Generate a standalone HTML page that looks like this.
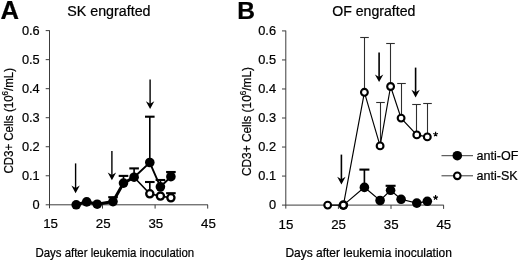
<!DOCTYPE html>
<html><head><meta charset="utf-8"><style>
html,body{margin:0;padding:0;background:#fff;}
body{width:520px;height:262px;overflow:hidden;}
svg{display:block;font-family:"Liberation Sans",sans-serif;fill:#000;filter:grayscale(1);}
svg text{stroke:#000;stroke-width:0.22px;}
</style></head><body>
<svg width="520" height="262" viewBox="0 0 520 262">
<rect width="520" height="262" fill="#fff"/>

<text x="0.5" y="19.1" font-size="25.6" font-weight="bold">A</text>
<text x="67.3" y="15.6" font-size="14.25">SK engrafted</text>
<g stroke="#3c3c3c" stroke-width="1" fill="none">
<path d="M49.5 30.30000000000001 V208.3"/>
<path d="M45.7 204.8 H207.9"/>
<path d="M45.7 175.77 H49.5"/>
<path d="M45.7 146.74 H49.5"/>
<path d="M45.7 117.71 H49.5"/>
<path d="M45.7 88.68 H49.5"/>
<path d="M45.7 59.65 H49.5"/>
<path d="M45.7 30.62 H49.5"/>
<path d="M102.5 204.8 V208.60000000000002"/>
<path d="M155.1 204.8 V208.60000000000002"/>
<path d="M207.7 204.8 V208.60000000000002"/>
</g>
<text x="39.739999999999995" y="208.8" font-size="12.8" text-anchor="end">0</text>
<text x="39.739999999999995" y="179.8" font-size="12.8" text-anchor="end">0.1</text>
<text x="39.739999999999995" y="150.8" font-size="12.8" text-anchor="end">0.2</text>
<text x="39.739999999999995" y="121.80000000000001" font-size="12.8" text-anchor="end">0.3</text>
<text x="39.739999999999995" y="92.80000000000001" font-size="12.8" text-anchor="end">0.4</text>
<text x="39.739999999999995" y="63.80000000000001" font-size="12.8" text-anchor="end">0.5</text>
<text x="39.739999999999995" y="34.80000000000001" font-size="12.8" text-anchor="end">0.6</text>
<text x="50.6" y="228.4" font-size="13.3" text-anchor="middle">15</text>
<text x="103.2" y="228.4" font-size="13.3" text-anchor="middle">25</text>
<text x="155.79999999999998" y="228.4" font-size="13.3" text-anchor="middle">35</text>
<text x="208.4" y="228.4" font-size="13.3" text-anchor="middle">45</text>
<text transform="translate(35.5 257.4) scale(0.96 1)" font-size="11.9">Days after leukemia inoculation</text>
<text transform="translate(13.2 120.8) rotate(-90) scale(0.92 1)" font-size="12.5" text-anchor="middle">CD3+ Cells (10<tspan font-size="8.6" dy="-5.2">6</tspan><tspan dy="5.2">/mL)</tspan></text>
<path d="M149.8 193.8 V182" stroke="#000" stroke-width="1.64" fill="none"/>
<path d="M145.0 182 H154.6" stroke="#000" stroke-width="2.1" fill="none"/>
<path d="M170.9 197.8 V193.2" stroke="#000" stroke-width="1.64" fill="none"/>
<path d="M166.1 193.2 H175.7" stroke="#000" stroke-width="2.1" fill="none"/>
<polyline points="134.1,177.2 149.8,193.8 160.4,196.1 170.9,197.8" stroke="#000" stroke-width="1.6" fill="none"/>
<circle cx="149.8" cy="193.8" r="3.6" fill="#fff" stroke="#000" stroke-width="2.3"/>
<circle cx="160.4" cy="196.1" r="3.6" fill="#fff" stroke="#000" stroke-width="2.3"/>
<circle cx="170.9" cy="197.8" r="3.6" fill="#fff" stroke="#000" stroke-width="2.3"/>
<path d="M113.0 201.6 V197.2" stroke="#000" stroke-width="1.64" fill="none"/>
<path d="M108.2 197.2 H117.8" stroke="#000" stroke-width="2.1" fill="none"/>
<path d="M123.5 183.1 V175.9" stroke="#000" stroke-width="1.64" fill="none"/>
<path d="M118.7 175.9 H128.3" stroke="#000" stroke-width="2.1" fill="none"/>
<path d="M134.1 177.2 V168.4" stroke="#000" stroke-width="1.64" fill="none"/>
<path d="M129.3 168.4 H138.9" stroke="#000" stroke-width="2.1" fill="none"/>
<path d="M149.8 162.5 V116.7" stroke="#000" stroke-width="1.64" fill="none"/>
<path d="M145.0 116.7 H154.6" stroke="#000" stroke-width="2.1" fill="none"/>
<path d="M160.4 186.8 V180" stroke="#000" stroke-width="1.64" fill="none"/>
<path d="M155.6 180 H165.2" stroke="#000" stroke-width="2.1" fill="none"/>
<path d="M170.9 176.7 V172" stroke="#000" stroke-width="1.64" fill="none"/>
<path d="M166.1 172 H175.7" stroke="#000" stroke-width="2.1" fill="none"/>
<polyline points="76.2,204.8 86.7,201.9 97.2,204.2 113.0,201.6 123.5,183.1 134.1,177.2" stroke="#000" stroke-width="3" fill="none"/>
<polyline points="134.1,177.2 149.8,162.5 160.4,186.8 170.9,176.7" stroke="#000" stroke-width="1.9" fill="none"/>
<circle cx="76.2" cy="204.8" r="4.8" fill="#000"/>
<circle cx="86.7" cy="201.9" r="4.8" fill="#000"/>
<circle cx="97.2" cy="204.2" r="4.8" fill="#000"/>
<circle cx="113.0" cy="201.6" r="4.8" fill="#000"/>
<circle cx="123.5" cy="183.1" r="4.8" fill="#000"/>
<circle cx="134.1" cy="177.2" r="4.8" fill="#000"/>
<circle cx="149.8" cy="162.5" r="4.8" fill="#000"/>
<circle cx="160.4" cy="186.8" r="4.8" fill="#000"/>
<circle cx="170.9" cy="176.7" r="4.8" fill="#000"/>
<path d="M75.6 163.4 V189.2" stroke="#000" stroke-width="1.4" fill="none"/>
<path d="M71.39999999999999 185.6 L75.6 188.0 L79.8 185.6 L75.6 193.2 Z" fill="#000"/>
<path d="M111.9 151.1 V176.2" stroke="#000" stroke-width="1.4" fill="none"/>
<path d="M107.7 172.6 L111.9 175.0 L116.10000000000001 172.6 L111.9 180.2 Z" fill="#000"/>
<path d="M150.1 79.6 V104.9" stroke="#000" stroke-width="1.4" fill="none"/>
<path d="M145.9 101.30000000000001 L150.1 103.7 L154.29999999999998 101.30000000000001 L150.1 108.9 Z" fill="#000"/>
<text x="237.3" y="19.1" font-size="24.6" font-weight="bold">B</text>
<text x="332.3" y="15.6" font-size="14.1">OF engrafted</text>
<g stroke="#3c3c3c" stroke-width="1" fill="none">
<path d="M285.8 30.599999999999994 V208.6"/>
<path d="M282.0 205.1 H443.8"/>
<path d="M282.0 176.07 H285.8"/>
<path d="M282.0 147.04 H285.8"/>
<path d="M282.0 118.01 H285.8"/>
<path d="M282.0 88.98 H285.8"/>
<path d="M282.0 59.95 H285.8"/>
<path d="M282.0 30.92 H285.8"/>
<path d="M338.4 205.1 V208.9"/>
<path d="M391.0 205.1 V208.9"/>
<path d="M443.6 205.1 V208.9"/>
</g>
<text x="276.03999999999996" y="209.1" font-size="12.8" text-anchor="end">0</text>
<text x="276.03999999999996" y="180.1" font-size="12.8" text-anchor="end">0.1</text>
<text x="276.03999999999996" y="151.1" font-size="12.8" text-anchor="end">0.2</text>
<text x="276.03999999999996" y="122.1" font-size="12.8" text-anchor="end">0.3</text>
<text x="276.03999999999996" y="93.1" font-size="12.8" text-anchor="end">0.4</text>
<text x="276.03999999999996" y="64.1" font-size="12.8" text-anchor="end">0.5</text>
<text x="276.03999999999996" y="35.099999999999994" font-size="12.8" text-anchor="end">0.6</text>
<text x="286.0" y="228.7" font-size="13.3" text-anchor="middle">15</text>
<text x="338.6" y="228.7" font-size="13.3" text-anchor="middle">25</text>
<text x="391.2" y="228.7" font-size="13.3" text-anchor="middle">35</text>
<text x="443.8" y="228.7" font-size="13.3" text-anchor="middle">45</text>
<text transform="translate(285.4 257.4) scale(1.008 1)" font-size="11.9">Days after leukemia inoculation</text>
<text transform="translate(250.8 121.5) rotate(-90) scale(0.95 1)" font-size="12.5" text-anchor="middle">CD3+ Cells (10<tspan font-size="8.6" dy="-5.2">6</tspan><tspan dy="5.2">/mL)</tspan></text>
<path d="M364.4 187.4 V169.6" stroke="#000" stroke-width="1.64" fill="none"/>
<path d="M359.4 169.6 H369.4" stroke="#000" stroke-width="2.1" fill="none"/>
<path d="M390.6 190.3 V185.8" stroke="#000" stroke-width="1.64" fill="none"/>
<path d="M385.6 185.8 H395.6" stroke="#000" stroke-width="2.1" fill="none"/>
<polyline points="343.4,205.1 364.4,187.4 380.1,200.5 390.6,190.3 401.1,199.3 416.8,203.1 427.3,201.3" stroke="#000" stroke-width="1.2" fill="none"/>
<circle cx="343.4" cy="205.1" r="4.8" fill="#000"/>
<circle cx="364.4" cy="187.4" r="4.8" fill="#000"/>
<circle cx="380.1" cy="200.5" r="4.8" fill="#000"/>
<circle cx="390.6" cy="190.3" r="4.8" fill="#000"/>
<circle cx="401.1" cy="199.3" r="4.8" fill="#000"/>
<circle cx="416.8" cy="203.1" r="4.8" fill="#000"/>
<circle cx="427.3" cy="201.3" r="4.8" fill="#000"/>
<path d="M364.5 92.3 V37.5" stroke="#2e2e2e" stroke-width="1.10" fill="none"/>
<path d="M360.2 37.5 H368.8" stroke="#2e2e2e" stroke-width="1.1" fill="none"/>
<path d="M380.5 145.9 V102.5" stroke="#2e2e2e" stroke-width="1.10" fill="none"/>
<path d="M376.2 102.5 H384.8" stroke="#2e2e2e" stroke-width="1.1" fill="none"/>
<path d="M390.5 86.5 V43.5" stroke="#2e2e2e" stroke-width="1.10" fill="none"/>
<path d="M386.2 43.5 H394.8" stroke="#2e2e2e" stroke-width="1.1" fill="none"/>
<path d="M401.5 118.1 V83.5" stroke="#2e2e2e" stroke-width="1.10" fill="none"/>
<path d="M397.2 83.5 H405.8" stroke="#2e2e2e" stroke-width="1.1" fill="none"/>
<path d="M416.5 134.9 V104.5" stroke="#2e2e2e" stroke-width="1.10" fill="none"/>
<path d="M412.2 104.5 H420.8" stroke="#2e2e2e" stroke-width="1.1" fill="none"/>
<path d="M427.5 136.9 V103.5" stroke="#2e2e2e" stroke-width="1.10" fill="none"/>
<path d="M423.2 103.5 H431.8" stroke="#2e2e2e" stroke-width="1.1" fill="none"/>
<polyline points="327.7,205.1 343.4,205.1 364.4,92.3 380.1,145.9 390.6,86.5 401.1,118.1 416.8,134.9 427.3,136.9" stroke="#000" stroke-width="1.15" fill="none"/>
<circle cx="327.7" cy="205.1" r="3.4" fill="#fff" stroke="#000" stroke-width="2.1"/>
<circle cx="343.4" cy="205.1" r="3.4" fill="#fff" stroke="#000" stroke-width="2.1"/>
<circle cx="364.4" cy="92.3" r="3.4" fill="#fff" stroke="#000" stroke-width="2.1"/>
<circle cx="380.1" cy="145.9" r="3.4" fill="#fff" stroke="#000" stroke-width="2.1"/>
<circle cx="390.6" cy="86.5" r="3.4" fill="#fff" stroke="#000" stroke-width="2.1"/>
<circle cx="401.1" cy="118.1" r="3.4" fill="#fff" stroke="#000" stroke-width="2.1"/>
<circle cx="416.8" cy="134.9" r="3.4" fill="#fff" stroke="#000" stroke-width="2.1"/>
<circle cx="427.3" cy="136.9" r="3.4" fill="#fff" stroke="#000" stroke-width="2.1"/>
<path d="M341.4 154.6 V180.4" stroke="#000" stroke-width="1.6" fill="none"/>
<path d="M337.2 176.8 L341.4 179.20000000000002 L345.59999999999997 176.8 L341.4 184.4 Z" fill="#000"/>
<path d="M379.1 52.6 V78.1" stroke="#000" stroke-width="1.6" fill="none"/>
<path d="M374.90000000000003 74.5 L379.1 76.89999999999999 L383.3 74.5 L379.1 82.1 Z" fill="#000"/>
<path d="M415.6 67.6 V93.4" stroke="#000" stroke-width="1.6" fill="none"/>
<path d="M411.40000000000003 89.80000000000001 L415.6 92.2 L419.8 89.80000000000001 L415.6 97.4 Z" fill="#000"/>
<path d="M435.6 134.2 L435.60 131.70 M435.6 134.2 L437.98 133.43 M435.6 134.2 L437.07 136.22 M435.6 134.2 L434.13 136.22 M435.6 134.2 L433.22 133.43 " stroke="#000" stroke-width="1.15" fill="none"/>
<path d="M435.6 197.6 L435.60 195.10 M435.6 197.6 L437.98 196.83 M435.6 197.6 L437.07 199.62 M435.6 197.6 L434.13 199.62 M435.6 197.6 L433.22 196.83 " stroke="#000" stroke-width="1.15" fill="none"/>
<path d="M441.5 155.7 H473 M441.5 175.8 H473" stroke="#3a3a3a" stroke-width="1" fill="none"/>
<circle cx="457.3" cy="155.7" r="4.8" fill="#000"/>
<circle cx="457.3" cy="175.8" r="3.3" fill="#fff" stroke="#000" stroke-width="2.1"/>
<text x="476.5" y="160" font-size="12.55">anti-OF</text>
<text x="476.5" y="180" font-size="12.55">anti-SK</text>
</svg></body></html>
